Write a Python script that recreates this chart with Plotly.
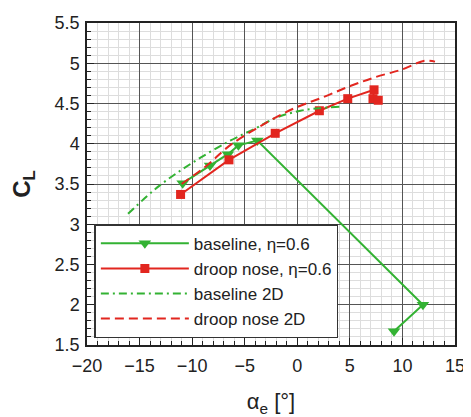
import plotly.graph_objects as go

# baseline, eta=0.6
base_x = [-10.9, -8.3, -6.6, -5.6, -3.8, 11.95, 9.2]
base_y = [3.51, 3.73, 3.87, 3.98, 4.04, 2.0, 1.67]
# droop nose, eta=0.6
droop_x = [-11.1, -6.5, -2.1, 2.1, 4.8, 7.3, 7.2, 7.7]
droop_y = [3.37, 3.80, 4.13, 4.41, 4.56, 4.67, 4.56, 4.54]
# baseline 2D
base2d_x = [-16.1, -13.1, -9.9, -6.5, -4.0, -1.9, 0.3, 2.0, 4.0]
base2d_y = [3.13, 3.48, 3.77, 4.03, 4.19, 4.33, 4.41, 4.44, 4.46]
# droop nose 2D
droop2d_x = [-11.0, -8.6, -6.5, -3.5, -0.3, 2.5, 5.1, 7.5, 9.9, 12.1, 13.1]
droop2d_y = [3.50, 3.73, 3.97, 4.22, 4.44, 4.58, 4.72, 4.83, 4.92, 5.03, 5.02]

GREEN = "#33b233"
RED = "#e2261f"
FONT = "Liberation Sans, Arial, sans-serif"

fig = go.Figure()
fig.add_trace(go.Scatter(x=base_x, y=base_y, mode="lines+markers", name="baseline, η=0.6",
                         line=dict(color=GREEN, width=2),
                         marker=dict(symbol="triangle-down", size=11, color=GREEN)))
fig.add_trace(go.Scatter(x=droop_x, y=droop_y, mode="lines+markers", name="droop nose, η=0.6",
                         line=dict(color=RED, width=2),
                         marker=dict(symbol="square", size=9, color=RED)))
fig.add_trace(go.Scatter(x=base2d_x, y=base2d_y, mode="lines", name="baseline 2D",
                         line=dict(color=GREEN, width=2, dash="8px,4px,2px,4px", shape="spline")))
fig.add_trace(go.Scatter(x=droop2d_x, y=droop2d_y, mode="lines", name="droop nose 2D",
                         line=dict(color=RED, width=2, dash="9px,5px", shape="spline")))

axis_common = dict(
    showline=True, linecolor="#222", linewidth=1.5, mirror=True,
    showgrid=True, gridcolor="#555", gridwidth=1,
    ticks="inside", ticklen=7, tickcolor="#222",
    tickfont=dict(family=FONT, size=18, color="#222"),
    ticklabeloverflow="allow",
    zeroline=False,
)
fig.update_xaxes(range=[-20, 15], dtick=5, tick0=-20,
                 minor=dict(dtick=1, showgrid=True, gridcolor="#ddd", ticks="inside", ticklen=4, tickcolor="#222"),
                 title=dict(text="α<sub>e</sub> [°]", font=dict(family=FONT, size=22, color="#222"), standoff=20),
                 ticklabelstandoff=4,
                 **axis_common)
fig.update_yaxes(range=[1.5, 5.5], dtick=0.5, tick0=1.5,
                 minor=dict(dtick=0.1, showgrid=True, gridcolor="#ddd", ticks="inside", ticklen=4, tickcolor="#222"),
                 title=dict(text="<b>C<sub>L</sub></b>", font=dict(family=FONT, size=24, color="#222"), standoff=22),
                 ticklabelstandoff=2,
                 **axis_common)

fig.update_layout(
    width=463, height=409,
    margin=dict(l=79, r=16, t=5, b=70),
    plot_bgcolor="white", paper_bgcolor="white",
    showlegend=True,
    legend=dict(x=0.02, y=0.021, xanchor="left", yanchor="bottom",
                bgcolor="white", bordercolor="#333", borderwidth=1.5,
                font=dict(family=FONT, size=17, color="#222"),
                tracegroupgap=0, itemwidth=88),
)

fig.write_html("out.html")
